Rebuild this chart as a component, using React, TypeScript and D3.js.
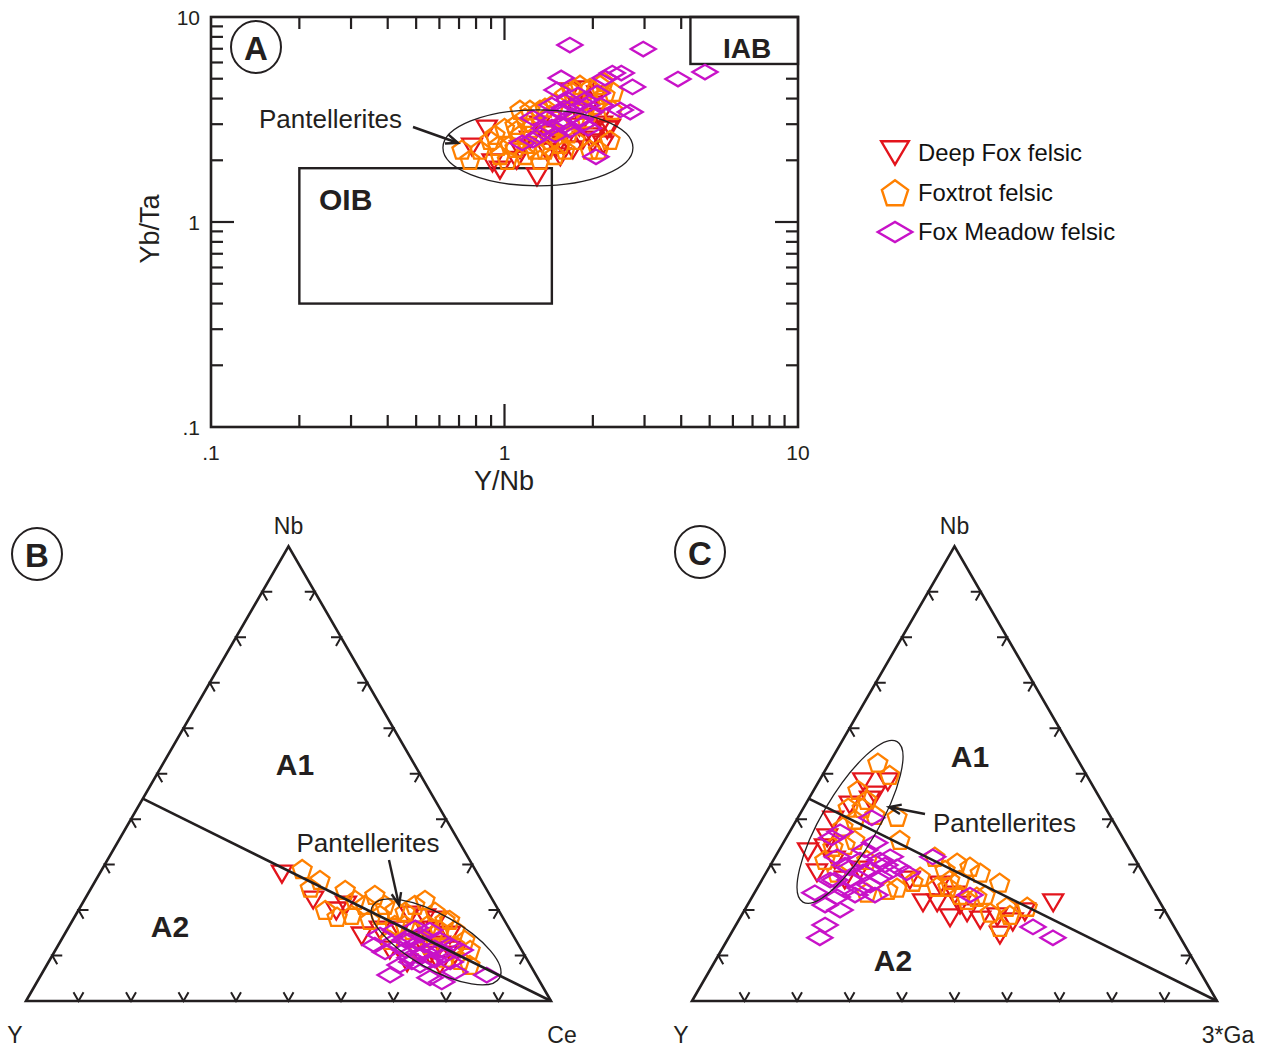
import React from 'react';
import * as d3 from 'd3';

// ---------- Series ----------
const seriesNames = ['Deep Fox felsic', 'Foxtrot felsic', 'Fox Meadow felsic'];
const seriesColors = ['#e3141c', '#ff8000', '#c812c8'];
const seriesShapes = ['triangle', 'pentagon', 'diamond'];

// ---------- Panel A: [Y/Nb, Yb/Ta] ----------
const deepFoxA: number[][] = [
  [0.87, 2.84], [0.775, 2.32], [0.91, 1.94], [0.965, 1.79], [1.29, 1.66], [2.24, 2.81], [2.15, 2.97],
  [1.58, 2.38], [1.71, 2.25], [1.85, 2.51], [2.0, 2.43], [1.51, 2.32], [1.4, 2.19], [1.67, 4.31],
  [1.88, 4.41], [2.07, 4.17], [2.12, 3.25], [2.0, 2.6], [2.17, 2.38], [1.55, 2.08], [1.13, 2.25],
  [1.22, 2.51], [1.37, 2.66], [2.29, 2.87], [1.96, 3.72], [1.78, 3.44], [1.32, 2.97],
  [1.45, 2.5], [1.8, 2.9], [1.1, 2.0],
];
const foxtrotA: number[][] = [
  [0.716, 2.25], [0.763, 2.01], [0.825, 2.25], [0.893, 2.51], [0.965, 2.12], [1.023, 2.01], [0.928, 2.66],
  [1.0, 2.87], [1.086, 2.97], [1.129, 2.66], [1.044, 2.38], [1.175, 3.22], [1.221, 2.87], [1.321, 3.52],
  [1.429, 3.33], [1.486, 3.81], [1.608, 4.17], [1.7, 4.5], [1.808, 4.66], [1.956, 4.5], [2.116, 4.66],
  [2.2, 4.17], [2.034, 3.72], [1.881, 3.52], [1.739, 3.15], [1.546, 2.97], [1.429, 2.51], [1.27, 2.25],
  [1.374, 2.25], [1.486, 2.12], [1.608, 2.25], [1.739, 2.51], [1.956, 2.25], [2.09, 2.25], [2.288, 2.51],
  [2.33, 3.52], [1.321, 2.01], [1.175, 2.12], [1.086, 2.3], [1.221, 3.52], [1.374, 3.6], [1.129, 3.52],
  [2.18, 4.82], [2.35, 4.31], [1.7, 4.31],
  [1.2, 2.4], [1.3, 2.7], [1.45, 2.8], [1.1, 2.8], [1.55, 2.4], [1.65, 2.7], [0.95, 2.35], [1.9, 3.2],
];
const foxMeadowA: number[][] = [
  [1.67, 7.3], [2.97, 6.98], [1.56, 5.04], [2.33, 5.33], [2.5, 5.33], [2.73, 4.56], [1.51, 4.41],
  [3.9, 4.98], [4.82, 5.39], [2.2, 5.04], [2.48, 3.52], [2.68, 3.44], [2.05, 2.08], [1.15, 2.43],
  [1.25, 3.22], [2.07, 4.26], [1.88, 3.94], [1.74, 3.72], [1.55, 3.44], [1.4, 3.22], [1.61, 2.97],
  [1.81, 3.15], [1.96, 3.44], [1.67, 2.81], [1.49, 2.66], [1.37, 2.87], [2.12, 3.72], [1.93, 2.87],
  [1.32, 2.66], [1.78, 4.17], [1.65, 3.94], [1.45, 3.72], [1.25, 2.51],
  [1.55, 3.0], [1.7, 3.3], [1.85, 3.0], [1.6, 3.6], [1.9, 3.7], [1.45, 2.9],
];
const tickValuesA = [0.1, 1, 10];
const tickLabelsA = ['.1', '1', '10'];
const minorTicksA = [0.2, 0.3, 0.4, 0.5, 0.6, 0.7, 0.8, 0.9, 2, 3, 4, 5, 6, 7, 8, 9];
const oibBox = [[0.2, 0.4], [1.45, 1.83]];
const iabBox = [[4.3, 5.9], [10, 10]];
const pantelleritesA = [1.3, 2.3]; // ellipse centre (Y/Nb, Yb/Ta)

// ---------- Panel B: [Nb, Y, Ce] ----------
const deepFoxB: number[][] = [
  [27.9, 37.3, 34.8], [22.2, 34.2, 43.6], [19.8, 31.0, 49.2], [14.3, 28.9, 56.8], [21.1, 28.5, 50.4],
  [18.9, 17.4, 63.7], [18.3, 14.8, 66.9], [17.8, 12.8, 69.4], [15.6, 21.0, 63.4], [13.4, 18.3, 68.3],
  [12.3, 15.0, 72.7], [8.4, 23.2, 68.4], [7.9, 17.2, 74.9], [10.1, 13.3, 76.6], [11.2, 25.1, 63.7],
  [10.1, 18.0, 71.9], [15.6, 24.8, 59.6], [14.5, 12.0, 73.5], [15.6, 16.2, 68.2], [11.2, 13.7, 75.1],
];
const foxtrotB: number[][] = [
  [29.0, 32.9, 38.1], [26.6, 30.7, 42.7], [24.9, 33.4, 41.7], [24.4, 27.0, 48.6], [22.2, 26.2, 51.6],
  [18.9, 28.5, 52.6], [18.5, 31.5, 50.0], [20.0, 33.0, 47.0], [21.1, 24.9, 54.0], [23.3, 21.9, 54.8],
  [21.1, 21.1, 57.8], [20.0, 19.7, 60.3], [19.6, 18.0, 62.4], [21.1, 15.4, 63.5], [22.2, 12.9, 64.9],
  [19.6, 12.3, 68.1], [17.8, 11.3, 70.9], [12.3, 12.2, 75.5], [9.0, 12.8, 78.2], [7.9, 11.5, 80.6],
  [9.5, 15.4, 75.1], [12.3, 16.9, 70.8], [15.6, 18.7, 65.7], [16.7, 21.4, 61.9], [18.9, 23.1, 58.0],
  [17.8, 25.6, 56.6], [13.4, 24.0, 62.6], [11.2, 19.4, 69.4], [13.4, 9.7, 76.9], [14.5, 15.2, 70.3],
  [16.7, 19.5, 63.8], [15.6, 13.4, 71.0], [15.6, 10.5, 73.9], [17.8, 10.4, 71.8], [11.2, 9.8, 79.0],
  [16.7, 15.1, 68.2],
];
const foxMeadowB: number[][] = [
  [12.3, 27.4, 60.3], [5.7, 27.8, 66.5], [9.5, 22.1, 68.4], [5.1, 20.5, 74.4], [6.4, 15.1, 78.5],
  [5.7, 9.4, 84.9], [15.6, 21.9, 62.5], [13.4, 20.2, 66.4], [12.3, 17.9, 69.8], [11.2, 15.5, 73.3],
  [10.1, 19.9, 70.0], [11.2, 22.2, 66.6], [10.8, 26.2, 63.0], [15.6, 15.3, 69.1], [16.1, 17.8, 66.1],
  [8.6, 14.9, 76.5], [7.9, 24.8, 67.3], [13.4, 14.4, 72.2], [14.5, 25.3, 60.2], [7.9, 21.0, 71.1],
  [9.0, 17.6, 73.4], [11.2, 11.7, 77.1], [4.2, 18.7, 77.1],
  [13.4, 21.1, 65.5], [12.3, 19.8, 67.9], [10.8, 18.6, 70.6], [11.7, 16.3, 72.0], [10.1, 15.2, 74.7],
  [8.6, 22.2, 69.2], [8.6, 19.1, 72.3], [12.3, 22.6, 65.1], [12.3, 13.1, 74.6], [14.5, 17.7, 67.8],
];
const pantelleritesB = [13.0, 15.4, 71.6];

// ---------- Panel C: [Nb, Y, 3*Ga] ----------
const deepFoxC: number[][] = [
  [48.2, 43.3, 8.5], [48.2, 38.6, 13.2], [45.3, 42.5, 12.2], [43.1, 48.4, 8.5], [39.8, 53.2, 7.0],
  [35.9, 56.3, 7.8], [32.8, 61.5, 5.7], [28.2, 62.1, 9.7], [31.0, 57.3, 11.7], [26.6, 57.6, 15.8],
  [28.8, 53.6, 17.6], [21.6, 45.2, 33.2], [21.6, 42.5, 35.9], [18.3, 41.7, 40.0], [19.4, 37.9, 42.7],
  [18.5, 32.6, 48.9], [17.4, 30.2, 52.4], [21.6, 20.4, 58.0], [14.5, 34.1, 51.4], [17.8, 36.2, 46.0],
  [23.3, 38.3, 38.4], [25.5, 40.0, 34.5], [26.6, 45.2, 28.2], [19.6, 26.8, 53.6],
  [44.2, 44.0, 11.8], [33.7, 57.9, 8.5], [21.1, 38.4, 40.5],
];
const foxtrotC: number[][] = [
  [52.4, 38.4, 9.2], [49.7, 37.5, 12.8], [46.4, 45.2, 8.4], [44.2, 44.6, 11.2], [40.5, 40.7, 18.8],
  [35.4, 42.7, 21.9], [42.5, 49.0, 8.5], [38.3, 52.1, 9.6], [33.9, 56.2, 9.9], [31.0, 59.2, 9.8],
  [28.2, 58.3, 13.5], [23.8, 54.8, 21.4], [24.4, 50.5, 25.1], [31.0, 51.2, 17.8], [35.4, 51.3, 13.3],
  [40.9, 44.7, 14.4], [31.7, 37.9, 30.4], [30.4, 34.3, 35.3], [29.5, 32.3, 38.2], [28.2, 31.0, 40.8],
  [26.0, 28.4, 45.6], [25.1, 38.7, 36.2], [27.3, 42.9, 29.8], [25.1, 40.8, 34.1], [22.9, 34.3, 42.8],
  [19.4, 33.5, 47.1], [20.7, 25.8, 53.5], [16.3, 33.2, 50.5], [22.2, 36.5, 41.3], [26.2, 44.8, 29.0],
  [24.9, 48.5, 26.6], [28.8, 37.4, 33.8], [26.6, 35.7, 37.7], [20.7, 29.7, 49.6],
  [39.8, 49.0, 11.1], [42.5, 46.4, 11.2], [34.3, 53.7, 12.0], [26.6, 37.6, 35.8], [23.3, 37.3, 39.4],
  [23.3, 32.5, 44.2], [18.9, 30.0, 51.1],
];
const foxMeadowC: number[][] = [
  [40.3, 45.6, 14.1], [37.2, 53.2, 9.6], [31.7, 56.5, 11.8], [34.8, 47.8, 17.4], [31.7, 46.4, 21.9],
  [29.5, 46.2, 24.3], [28.4, 53.2, 18.4], [26.6, 56.6, 16.8], [26.6, 60.4, 13.0], [23.8, 64.7, 11.5],
  [22.9, 60.9, 16.2], [21.1, 64.1, 14.8], [20.0, 61.8, 18.2], [16.7, 66.3, 17.0], [13.9, 68.7, 17.4],
  [28.2, 45.0, 26.8], [27.3, 50.5, 22.2], [31.7, 38.3, 30.0], [23.3, 35.4, 41.3], [16.3, 26.9, 56.8],
  [13.9, 24.3, 61.8], [31.0, 52.5, 16.5], [25.5, 53.3, 21.2], [23.3, 57.3, 19.4], [29.9, 48.3, 21.8],
  [29.9, 55.9, 14.2],
  [29.3, 55.3, 15.4], [28.8, 51.7, 19.5], [31.0, 48.7, 20.3], [24.9, 55.6, 19.6], [24.4, 58.7, 16.9],
  [28.4, 48.1, 23.5], [23.3, 53.5, 23.2], [26.6, 59.5, 13.9], [35.9, 55.4, 8.7], [33.2, 50.4, 16.3],
];
const pantelleritesC = [39.4, 50.2, 10.4];

// A1 / A2 boundary (Nb, Y, third apex)
const boundaryLine: number[][] = [[44.5, 55.5, 0], [0, 0, 100]];
const ternaryTicks = [0.1, 0.2, 0.3, 0.4, 0.5, 0.6, 0.7, 0.8, 0.9];

// ---------- helpers ----------
const INK = '#231f20';
const FONT = '"Liberation Sans", Arial, Helvetica, sans-serif';

function markerPath(shape: string, s = 1): string {
  if (shape === 'triangle') {
    const w = 20 * s, h = 17 * s;
    return `M${-w / 2},${-h / 2}L${w / 2},${-h / 2}L0,${h / 2}Z`;
  }
  if (shape === 'pentagon') {
    const r = 10 * s;
    const pts = d3.range(5).map((k) => {
      const a = (-90 + 72 * k) * Math.PI / 180;
      return [r * Math.cos(a), r * Math.sin(a) + 0.8 * s] as [number, number];
    });
    return d3.line()(pts) + 'Z';
  }
  const hw = 12.5 * s, hh = 7.3 * s;
  return `M${-hw},0L0,${-hh}L${hw},0L0,${hh}Z`;
}

function Markers({ data, idx, pos }: { data: number[][]; idx: number; pos: (d: number[]) => [number, number] }) {
  return (
    <g>
      {data.map((d, i) => {
        const [x, y] = pos(d);
        return (
          <path key={i} d={markerPath(seriesShapes[idx])} transform={`translate(${x},${y})`}
            fill="none" stroke={seriesColors[idx]} strokeWidth={2.3} strokeLinejoin="miter" />
        );
      })}
    </g>
  );
}

function Arrow({ x1, y1, x2, y2 }: { x1: number; y1: number; x2: number; y2: number }) {
  const ang = Math.atan2(y2 - y1, x2 - x1);
  const L = 13, spread = 0.38;
  const p1 = [x2 - L * Math.cos(ang - spread), y2 - L * Math.sin(ang - spread)];
  const p2 = [x2 - L * Math.cos(ang + spread), y2 - L * Math.sin(ang + spread)];
  return (
    <g stroke={INK} fill="none" strokeWidth={2.4}>
      <line x1={x1} y1={y1} x2={x2} y2={y2} />
      <path d={`M${p1[0]},${p1[1]}L${x2},${y2}L${p2[0]},${p2[1]}`} strokeLinejoin="miter" />
    </g>
  );
}

function CircleLabel({ cx, cy, text }: { cx: number; cy: number; text: string }) {
  return (
    <g>
      <ellipse cx={cx} cy={cy} rx={25} ry={26} fill="none" stroke={INK} strokeWidth={2} />
      <text x={cx} y={cy + 1} textAnchor="middle" dominantBaseline="central" fontWeight="bold"
        fontSize={33} fill={INK} fontFamily={FONT}>{text}</text>
    </g>
  );
}

// ---------- Panel A ----------
function PanelA() {
  const x = d3.scaleLog().domain([0.1, 10]).range([211, 798]);
  const y = d3.scaleLog().domain([0.1, 10]).range([427, 17]);
  const pos = (d: number[]) => [x(d[0]), y(d[1])] as [number, number];
  const minorLen = 12, majorLen = 23;
  const majors = [1];
  const all = [...minorTicksA.map((v) => ({ v, len: minorLen })), ...majors.map((v) => ({ v, len: majorLen }))];
  const [ecx, ecy] = pos(pantelleritesA);
  return (
    <g>
      <g stroke={INK} strokeWidth={2.2}>
        {all.map(({ v, len }, i) => (
          <g key={i}>
            <line x1={x(v)} y1={427} x2={x(v)} y2={427 - len} />
            <line x1={x(v)} y1={17} x2={x(v)} y2={17 + len} />
            <line x1={211} y1={y(v)} x2={211 + len} y2={y(v)} />
            <line x1={798} y1={y(v)} x2={798 - len} y2={y(v)} />
          </g>
        ))}
      </g>
      <rect x={x(oibBox[0][0])} y={y(oibBox[1][1])} width={x(oibBox[1][0]) - x(oibBox[0][0])}
        height={y(oibBox[0][1]) - y(oibBox[1][1])} fill="none" stroke={INK} strokeWidth={2.4} />
      <rect x={x(iabBox[0][0])} y={y(iabBox[1][1])} width={x(iabBox[1][0]) - x(iabBox[0][0])}
        height={y(iabBox[0][1]) - y(iabBox[1][1])} fill="white" stroke={INK} strokeWidth={2.4} />
      <text x={319} y={199} dominantBaseline="central" fontWeight="bold" fontSize={30} fill={INK} fontFamily={FONT}>OIB</text>
      <text x={747} y={48} textAnchor="middle" dominantBaseline="central" fontWeight="bold" fontSize={28} fill={INK} fontFamily={FONT}>IAB</text>
      <rect x={211} y={17} width={587} height={410} fill="none" stroke={INK} strokeWidth={2.6} />
      <Markers data={deepFoxA} idx={0} pos={pos} />
      <Markers data={foxtrotA} idx={1} pos={pos} />
      <Markers data={foxMeadowA} idx={2} pos={pos} />
      <ellipse cx={ecx} cy={ecy} rx={95} ry={38} fill="none" stroke={INK} strokeWidth={1.3} />
      <text x={259} y={119} dominantBaseline="central" fontSize={26} fill={INK} fontFamily={FONT}>Pantellerites</text>
      <Arrow x1={413} y1={127} x2={458} y2={143} />
      {tickValuesA.map((v, i) => (
        <text key={'x' + i} x={x(v)} y={452} textAnchor="middle" dominantBaseline="central" fontSize={21} fill={INK} fontFamily={FONT}>{tickLabelsA[i]}</text>
      ))}
      {tickValuesA.map((v, i) => (
        <text key={'y' + i} x={200} y={y(v)} textAnchor="end" dominantBaseline="central" fontSize={21} fill={INK} fontFamily={FONT}>{tickLabelsA[i]}</text>
      ))}
      <text x={504} y={481} textAnchor="middle" dominantBaseline="central" fontSize={27} fill={INK} fontFamily={FONT}>Y/Nb</text>
      <text transform="translate(150,229) rotate(-90)" textAnchor="middle" dominantBaseline="central" fontSize={27} fill={INK} fontFamily={FONT}>Yb/Ta</text>
      <CircleLabel cx={256} cy={47} text="A" />
    </g>
  );
}

// ---------- Ternary panels ----------
const SIDE = 525;
const BASE_Y = 1001;
const S3 = Math.sqrt(3) / 2;

function Ternary({ x0, series, apexLabels, ellipse, letter, a1, a2, pant, arrow, pantAnchor }: any) {
  const tx = d3.scaleLinear().domain([0, 1]).range([x0, x0 + SIDE]);
  const ty = d3.scaleLinear().domain([0, S3]).range([BASE_Y, BASE_Y - SIDE * S3]);
  const proj = (d: number[]) => {
    const s = d[0] + d[1] + d[2];
    const a = d[0] / s, c = d[2] / s;
    return [tx(c + a / 2), ty(a * S3)] as [number, number];
  };
  const line = d3.line();
  const tri = line([proj([0, 100, 0]), proj([0, 0, 100]), proj([100, 0, 0])]) + 'Z';
  const L = 10;
  const arm = (deg: number) => [L * Math.cos(deg * Math.PI / 180), -L * Math.sin(deg * Math.PI / 180)];
  const tickPaths: string[] = [];
  ternaryTicks.forEach((t) => {
    const sides: [number[], number, number][] = [
      [[0, 100 * (1 - t), 100 * t], 60, 120],
      [[100 * t, 100 * (1 - t), 0], 0, -60],
      [[100 * t, 0, 100 * (1 - t)], 180, 240],
    ];
    sides.forEach(([d, d1, d2]) => {
      const [px, py] = proj(d);
      const a1v = arm(d1), a2v = arm(d2);
      tickPaths.push(`M${px + a1v[0]},${py + a1v[1]}L${px},${py}L${px + a2v[0]},${py + a2v[1]}`);
    });
  });
  const [ex, ey] = proj(ellipse.c);
  return (
    <g>
      <path d={tri} fill="none" stroke={INK} strokeWidth={2.6} strokeLinejoin="miter" />
      {tickPaths.map((p, i) => <path key={i} d={p} fill="none" stroke={INK} strokeWidth={2} />)}
      <Markers data={series[0]} idx={0} pos={proj} />
      <Markers data={series[1]} idx={1} pos={proj} />
      <Markers data={series[2]} idx={2} pos={proj} />
      <path d={line(boundaryLine.map(proj)) as string} stroke={INK} strokeWidth={2.6} fill="none" />
      <ellipse cx={0} cy={0} rx={ellipse.rx} ry={ellipse.ry} transform={`translate(${ex},${ey}) rotate(${ellipse.rot})`}
        fill="none" stroke={INK} strokeWidth={1.3} />
      <text x={pant[0]} y={pant[1]} textAnchor={pantAnchor} dominantBaseline="central" fontSize={26} fill={INK} fontFamily={FONT}>Pantellerites</text>
      <Arrow x1={arrow[0]} y1={arrow[1]} x2={arrow[2]} y2={arrow[3]} />
      <text x={a1[0]} y={a1[1]} textAnchor="middle" dominantBaseline="central" fontWeight="bold" fontSize={30} fill={INK} fontFamily={FONT}>A1</text>
      <text x={a2[0]} y={a2[1]} textAnchor="middle" dominantBaseline="central" fontWeight="bold" fontSize={30} fill={INK} fontFamily={FONT}>A2</text>
      <text x={tx(0.5)} y={526} textAnchor="middle" dominantBaseline="central" fontSize={23} fill={INK} fontFamily={FONT}>{apexLabels[0]}</text>
      <text x={x0 - 11} y={1035} textAnchor="middle" dominantBaseline="central" fontSize={23} fill={INK} fontFamily={FONT}>{apexLabels[1]}</text>
      <text x={x0 + SIDE + 11} y={1035} textAnchor="middle" dominantBaseline="central" fontSize={23} fill={INK} fontFamily={FONT}>{apexLabels[2]}</text>
      <CircleLabel cx={letter[1]} cy={letter[2]} text={letter[0]} />
    </g>
  );
}

function Legend() {
  const ys = [153, 193, 232];
  return (
    <g>
      {seriesNames.map((n, i) => (
        <g key={n}>
          <path d={markerPath(seriesShapes[i], 1.38)} transform={`translate(895,${ys[i]})`} fill="none"
            stroke={seriesColors[i]} strokeWidth={2.4} />
          <text x={918} y={ys[i] - 1} dominantBaseline="central" fontSize={23.8} fill="#111" fontFamily={FONT}>{n}</text>
        </g>
      ))}
    </g>
  );
}

export default function App() {
  return (
    <svg width={1265} height={1048} viewBox="0 0 1265 1048"
      style={{ position: 'absolute', left: 0, top: 0, background: 'white' }}>
      <rect width={1265} height={1048} fill="white" />
      <PanelA />
      <Legend />
      <Ternary x0={26} series={[deepFoxB, foxtrotB, foxMeadowB]} apexLabels={['Nb', 'Y', 'Ce']}
        ellipse={{ c: pantelleritesB, rx: 73, ry: 27, rot: 29.5 }} letter={['B', 37, 554]}
        a1={[295, 764]} a2={[170, 926]} pant={[368, 843]} pantAnchor="middle" arrow={[389, 860, 399, 905]} />
      <Ternary x0={692} series={[deepFoxC, foxtrotC, foxMeadowC]} apexLabels={['Nb', 'Y', '3*Ga']}
        ellipse={{ c: pantelleritesC, rx: 93, ry: 28, rot: -59.6 }} letter={['C', 700, 552]}
        a1={[970, 756]} a2={[893, 960]} pant={[933, 823]} pantAnchor="start" arrow={[925, 814, 889, 807]} />
    </svg>
  );
}
